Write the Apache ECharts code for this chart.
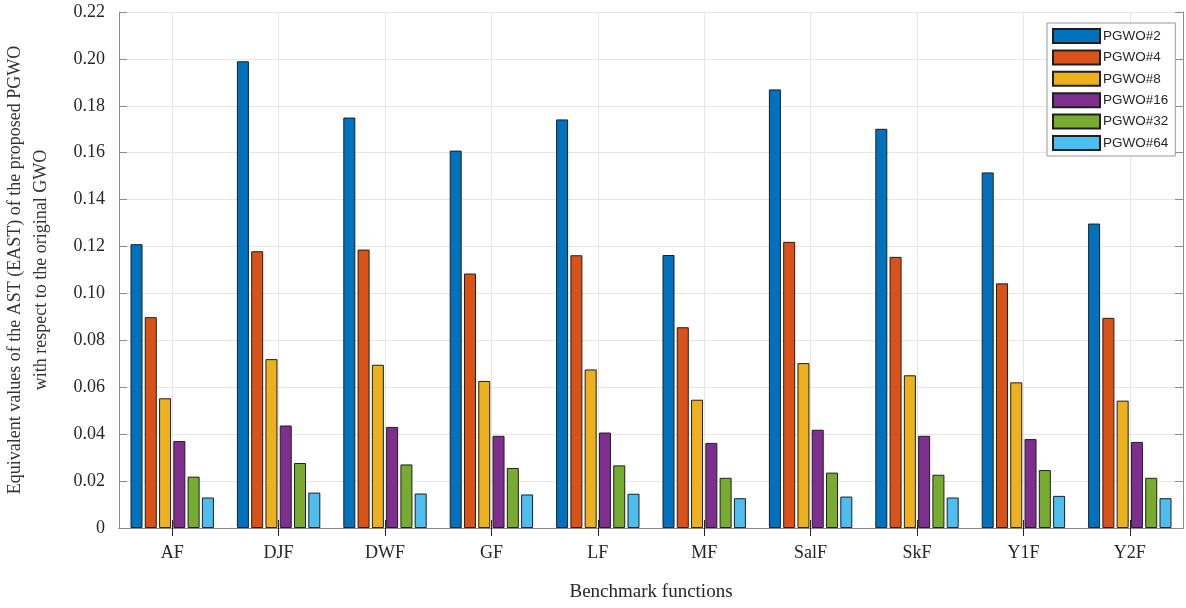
<!DOCTYPE html>
<html>
<head>
<meta charset="utf-8">
<script src="https://cdn.jsdelivr.net/npm/echarts@6/dist/echarts.min.js"></script>
<style>
html,body{margin:0;padding:0;background:#fff;}
#chart{width:1186px;height:608px;}
</style>
</head>
<body>
<div id="chart"></div>
<script>
const categories = ['AF','DJF','DWF','GF','LF','MF','SalF','SkF','Y1F','Y2F'];
const seriesNames = ['PGWO#2','PGWO#4','PGWO#8','PGWO#16','PGWO#32','PGWO#64'];
const pgwo2  = [0.1210, 0.1990, 0.1750, 0.1609, 0.1742, 0.1164, 0.1870, 0.1702, 0.1516, 0.1298];
const pgwo4  = [0.0899, 0.1180, 0.1187, 0.1085, 0.1163, 0.0856, 0.1220, 0.1156, 0.1043, 0.0896];
const pgwo8  = [0.0553, 0.0720, 0.0696, 0.0627, 0.0676, 0.0547, 0.0703, 0.0651, 0.0621, 0.0543];
const pgwo16 = [0.0371, 0.0437, 0.0431, 0.0393, 0.0407, 0.0363, 0.0419, 0.0393, 0.0379, 0.0367];
const pgwo32 = [0.0219, 0.0277, 0.0271, 0.0256, 0.0267, 0.0214, 0.0236, 0.0227, 0.0247, 0.0214];
const pgwo64 = [0.0130, 0.0151, 0.0147, 0.0143, 0.0146, 0.0127, 0.0134, 0.0130, 0.0137, 0.0127];
const yMin = 0, yMax = 0.22, yStep = 0.02;

const allData = [pgwo2, pgwo4, pgwo8, pgwo16, pgwo32, pgwo64];
const colors = ['#0072BD','#D95319','#EDB120','#7E2F8E','#77AC30','#4DBEEE'];
const serif = '"Liberation Serif", "Times New Roman", serif';
const axisGray = '#8a8a8a';

const chart = echarts.init(document.getElementById('chart'), null, {renderer:'canvas'});
const option = {
  animation: false,
  backgroundColor: '#fff',
  grid: {left: 119, right: 3, top: 12, bottom: 80, containLabel: false, outerBoundsMode: 'none'},
  legend: {
    orient: 'vertical',
    left: 1047, top: 23,
    padding: [5, 7, 5, 5],
    itemWidth: 47, itemHeight: 14, itemGap: 5.4,
    icon: 'rect',
    backgroundColor: '#fff',
    borderColor: '#9a9a9a', borderWidth: 1,
    textStyle: {fontFamily: '"Liberation Sans", Arial, sans-serif', fontSize: 13.5, color: '#262626', padding: [0,0,0,-2]},
    data: seriesNames
  },
  xAxis: [{
    type: 'category', data: categories, position: 'bottom',
    boundaryGap: true,
    axisLine: {show: true, lineStyle: {color: axisGray, width: 1}},
    axisTick: {show: true, inside: true, alignWithLabel: true, length: 8, lineStyle: {color: '#262626'}},
    splitLine: {show: true, alignWithLabel: true, lineStyle: {color: '#e6e6e6', width: 1}},
    axisLabel: {fontFamily: serif, fontSize: 18, color: '#262626', margin: 16},
    name: 'Benchmark functions', nameLocation: 'middle', nameGap: 55,
    nameTextStyle: {fontFamily: serif, fontSize: 19, color: '#262626'}
  },{
    type: 'category', data: categories, position: 'top',
    boundaryGap: true,
    axisLine: {show: true, lineStyle: {color: axisGray, width: 1}},
    axisTick: {show: true, inside: true, alignWithLabel: true, length: 8, lineStyle: {color: '#262626'}},
    axisLabel: {show: false}, splitLine: {show: false}
  }],
  yAxis: [{
    type: 'value', min: yMin, max: yMax, interval: yStep, position: 'left',
    axisLine: {show: true, lineStyle: {color: axisGray, width: 1}},
    axisTick: {show: true, inside: true, length: 8, lineStyle: {color: axisGray}},
    splitLine: {show: true, lineStyle: {color: '#e6e6e6', width: 1}},
    axisLabel: {fontFamily: serif, fontSize: 18, color: '#262626', margin: 14,
      formatter: v => (Math.abs(v) < 1e-9 ? '0' : v.toFixed(2))},
    name: 'Equivalent values of the AST (EAST) of the proposed PGWO\nwith respect to the original GWO',
    nameLocation: 'middle', nameRotate: 90, nameGap: 65,
    nameTextStyle: {fontFamily: serif, fontSize: 18, color: '#333', lineHeight: 26}
  },{
    type: 'value', min: yMin, max: yMax, interval: yStep, position: 'right',
    axisLine: {show: true, lineStyle: {color: axisGray, width: 1}},
    axisTick: {show: true, inside: true, length: 8, lineStyle: {color: axisGray}},
    axisLabel: {show: false}, splitLine: {show: false}
  }],
  series: allData.map((d, i) => ({
    name: seriesNames[i],
    type: 'bar',
    data: d,
    barWidth: 12,
    barGap: '19%',
    itemStyle: {color: colors[i], borderColor: '#1f1f1f', borderWidth: 1}
  }))
};
chart.setOption(option);
</script>
</body>
</html>
